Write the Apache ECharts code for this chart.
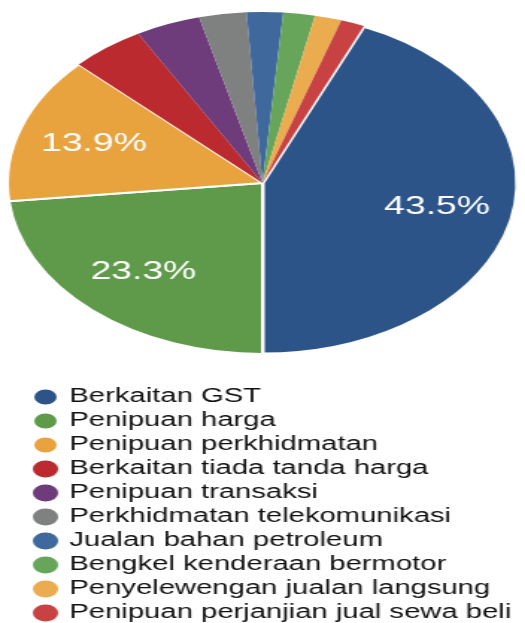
<!DOCTYPE html>
<html>
<head>
<meta charset="utf-8">
<script src="https://cdn.jsdelivr.net/npm/echarts@6/dist/echarts.min.js"></script>
<style>
  html, body { margin: 0; padding: 0; background: #fff; overflow: hidden; }
  /* the reference is a horizontally stretched picture, so draw narrow and stretch */
  #pieChart { width: 352px; height: 623px; transform: scaleX(1.4915); transform-origin: 0 0; }
</style>
</head>
<body>
<div id="pieChart"></div>
<script>
// data
var categories = [
  'Berkaitan GST',
  'Penipuan harga',
  'Penipuan perkhidmatan',
  'Berkaitan tiada tanda harga',
  'Penipuan transaksi',
  'Perkhidmatan telekomunikasi',
  'Jualan bahan petroleum',
  'Bengkel kenderaan bermotor',
  'Penyelewengan jualan langsung',
  'Penipuan perjanjian jual sewa beli'
];
var shares = [43.5, 23.3, 13.9, 4.7, 4.1, 3.0, 2.3, 2.0, 1.7, 1.5];
var colors = ['#2d5489', '#5e9a4a', '#e8a33e', '#bb2a2f', '#6e3b7b',
              '#7f8080', '#3f689d', '#67a65a', '#ebac4f', '#c84244'];
var borders = [3, 2, 2, 0, 0, 0, 0, 0, 0, 0];

(function () {
  var dom = document.getElementById('pieChart');
  var myChart = echarts.init(dom);

  var pieData = categories.map(function (name, i) {
    return {
      name: name,
      value: shares[i],
      itemStyle: { color: colors[i], borderColor: '#fff', borderWidth: borders[i] }
    };
  });
  // label-only ring, so the percent text sits further out than half radius
  var labelData = shares.map(function (v) {
    return { value: v };
  });

  var option = {
    animation: false,
    legend: {
      orient: 'vertical',
      left: 21,
      top: 387,
      height: 300,
      padding: 0,
      itemWidth: 17,
      itemHeight: 17,
      itemGap: 4,
      icon: 'circle',
      data: categories,
      textStyle: {
        fontFamily: 'Liberation Sans, Arial, sans-serif',
        fontSize: 19.6,
        lineHeight: 19,
        color: '#111',
        padding: [0, 0, 0, 2.5]
      }
    },
    series: [{
      type: 'pie',
      center: [176, 183],
      radius: [0, 171],
      startAngle: 66.6,
      clockwise: true,
      silent: true,
      label: { show: false },
      labelLine: { show: false },
      data: pieData
    }, {
      type: 'pie',
      center: [176, 183],
      radius: [62, 171],
      startAngle: 66.6,
      clockwise: true,
      silent: true,
      itemStyle: { color: 'rgba(0,0,0,0)' },
      label: {
        show: true,
        position: 'inside',
        color: '#fff',
        fontSize: 25,
        fontFamily: 'Liberation Sans, Arial, sans-serif',
        formatter: function (p) {
          return p.value > 10 ? p.value.toFixed(1) + '%' : '';
        }
      },
      labelLine: { show: false },
      data: labelData
    }]
  };

  if (option && typeof option === 'object') {
    myChart.setOption(option);
  }
})();
</script>
</body>
</html>
